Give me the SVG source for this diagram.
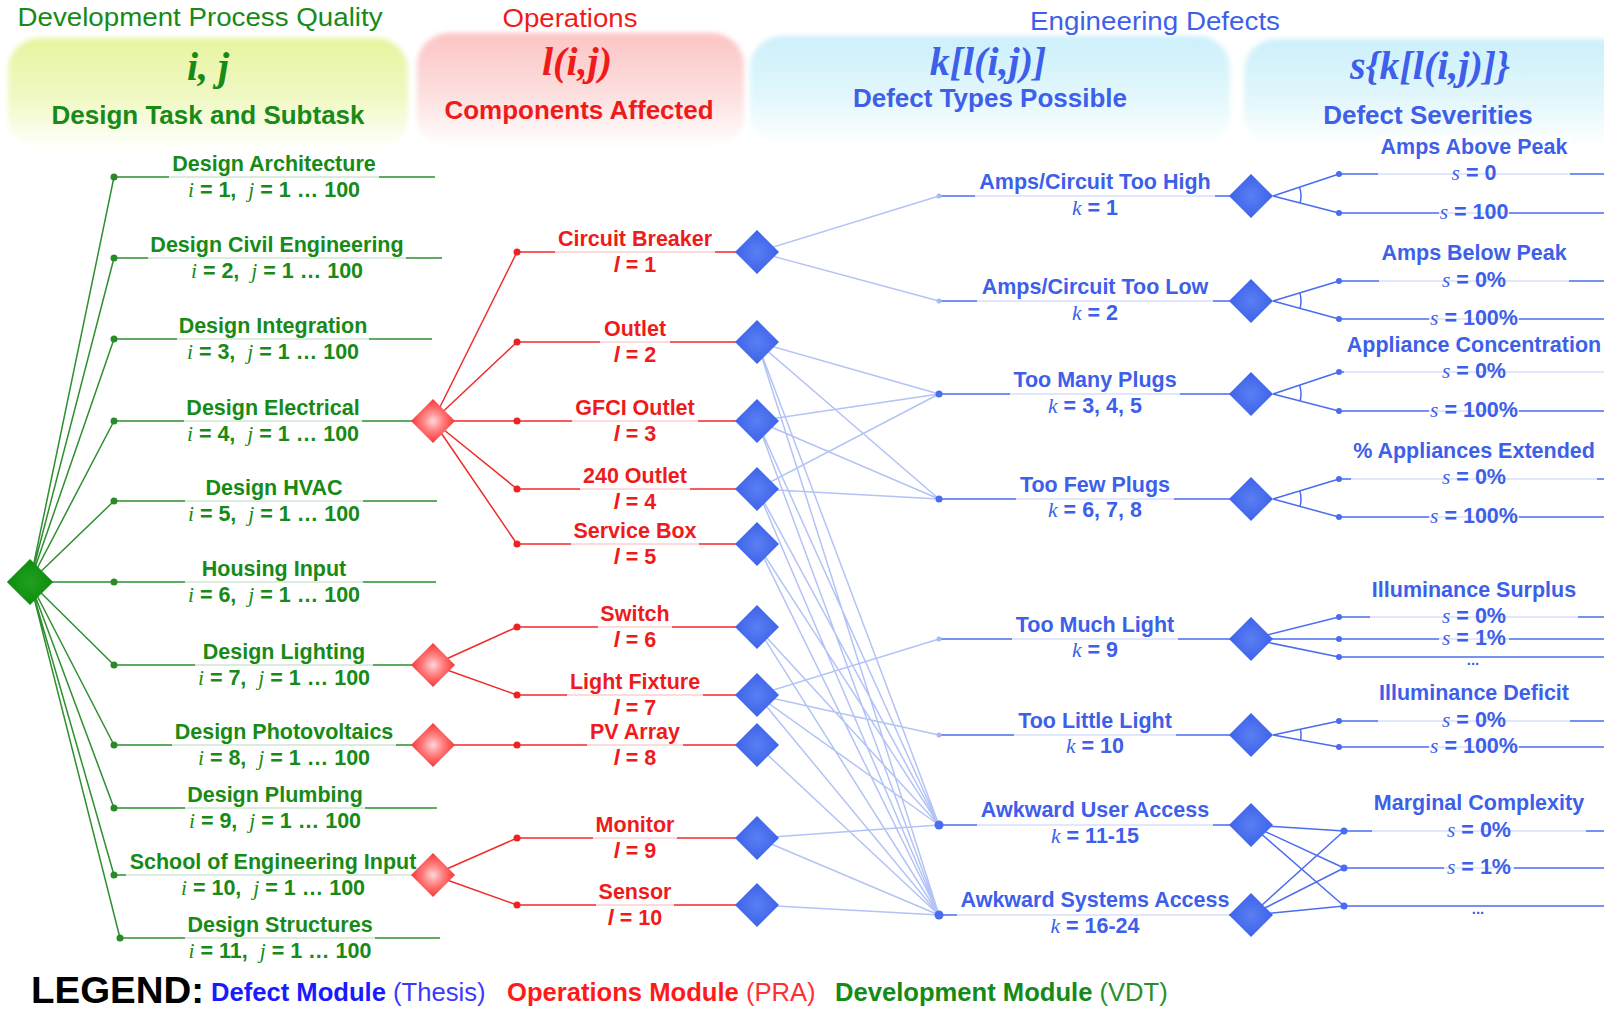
<svg xmlns="http://www.w3.org/2000/svg" xmlns:xlink="http://www.w3.org/1999/xlink" width="1604" height="1009" viewBox="0 0 1604 1009">
  <defs>
    <linearGradient id="boxGreen" x1="0" y1="0" x2="0" y2="1">
      <stop offset="0" stop-color="#e6f49e"/>
      <stop offset="0.55" stop-color="#f1f9c6"/>
      <stop offset="1" stop-color="#ffffff"/>
    </linearGradient>
    <linearGradient id="boxRed" x1="0" y1="0" x2="0" y2="1">
      <stop offset="0" stop-color="#fcc4c4"/>
      <stop offset="0.55" stop-color="#fde0e0"/>
      <stop offset="1" stop-color="#ffffff"/>
    </linearGradient>
    <linearGradient id="boxBlue" x1="0" y1="0" x2="0" y2="1">
      <stop offset="0" stop-color="#ccf0fa"/>
      <stop offset="0.55" stop-color="#e2f7fc"/>
      <stop offset="1" stop-color="#ffffff"/>
    </linearGradient>
    <radialGradient id="fillRed" cx="0.5" cy="0.5" r="0.55">
      <stop offset="0" stop-color="#ffd6d6"/>
      <stop offset="0.45" stop-color="#ff7a7a"/>
      <stop offset="1" stop-color="#f42a2a"/>
    </radialGradient>
    <radialGradient id="fillBlue" cx="0.5" cy="0.5" r="0.55">
      <stop offset="0" stop-color="#5a7ff2"/>
      <stop offset="1" stop-color="#3a60ea"/>
    </radialGradient>
    <radialGradient id="fillGreen" cx="0.5" cy="0.5" r="0.55">
      <stop offset="0" stop-color="#22a022"/>
      <stop offset="1" stop-color="#0b8a0b"/>
    </radialGradient>
    <filter id="soft" x="-5%" y="-10%" width="110%" height="120%">
      <feGaussianBlur stdDeviation="2.5"/>
    </filter>
    <path id="dia" d="M-22 0L0-22L22 0L0 22Z"/>
  </defs>
  <style>
    .hd{font:26px 'Liberation Sans',Arial,sans-serif;text-anchor:middle}
    .hb{font:bold 26px 'Liberation Sans',Arial,sans-serif;text-anchor:middle}
    .math{font:italic bold 40px 'Liberation Serif','Times New Roman',serif;text-anchor:middle}
    .lb{font:bold 21.5px 'Liberation Sans',Arial,sans-serif;text-anchor:middle}
    .v{font-family:'Liberation Serif','Times New Roman',serif;font-style:italic;font-weight:normal}
    .vi{font-style:italic}
    .g{fill:#178a17}
    .r{fill:#ef1b1b}
    .b{fill:#3d5fe9}
    .bg{fill:#ffffff;opacity:0.78}
    .lg{stroke:#2e8f2e;stroke-width:1.5;fill:none}
    .lr{stroke:#f22a2a;stroke-width:1.5;fill:none}
    .lx{stroke:#b3c3f5;stroke-width:1.5;fill:none}
    .lb2{stroke:#4a6cf0;stroke-width:1.5;fill:none}
    .dg{fill:#2a8a2a}
    .dr{fill:#ee2222}
    .db{fill:#4a6cf0}
    .dl{fill:#a9b9f2}
  </style>

  <!-- column header panels -->
  <g id="hdr-dev">
    <rect x="8" y="38" width="400" height="112" rx="32" fill="url(#boxGreen)" filter="url(#soft)"/>
    <text class="hd g" x="200" y="26" textLength="365" lengthAdjust="spacingAndGlyphs">Development Process Quality</text>
    <text class="math g" x="208" y="80">i, j</text>
    <text class="hb g" x="208" y="124">Design Task and Subtask</text>
  </g>
  <g id="hdr-ops">
    <rect x="417" y="33" width="327" height="115" rx="32" fill="url(#boxRed)" filter="url(#soft)"/>
    <text class="hd r" x="570" y="27" textLength="135" lengthAdjust="spacingAndGlyphs">Operations</text>
    <text class="math r" x="577" y="75">l(i,j)</text>
    <text class="hb r" x="579" y="119">Components Affected</text>
  </g>
  <g id="hdr-def">
    <rect x="750" y="36" width="480" height="110" rx="32" fill="url(#boxBlue)" filter="url(#soft)"/>
    <text class="hd b" x="1155" y="30" textLength="250" lengthAdjust="spacingAndGlyphs">Engineering Defects</text>
    <text class="math b" x="988" y="75">k[l(i,j)]</text>
    <text class="hb b" x="990" y="107">Defect Types Possible</text>
  </g>
  <g id="hdr-sev">
    <rect x="1244" y="39" width="400" height="108" rx="32" fill="url(#boxBlue)" filter="url(#soft)"/>
    <text class="math b" x="1430" y="79">s{k[l(i,j)]}</text>
    <text class="hb b" x="1428" y="124">Defect Severities</text>
  </g>

  <!-- connectors -->
  <g id="connectors">
    <!-- development spokes -->
    <path class="lg" d="M30 582L114 177M30 582L114 258M30 582L114 339M30 582L114 421M30 582L114 501M30 582L114 582M30 582L114 665M30 582L114 745M30 582L114 808M30 582L114 875M30 582L120 938"/>
    <!-- development task lines -->
    <path class="lg" d="M114 177H435M114 258H442M114 339H432M114 421H433M114 501H437M114 582H436M114 665H433M114 745H433M114 808H437M114 875H433M120 938H440"/>
    <!-- operations spokes -->
    <path class="lr" d="M433 421L517 252M433 421L517 342M433 421L517 421M433 421L517 489M433 421L517 544M433 665L517 627M433 665L517 695M433 745L517 745M433 875L517 838M433 875L517 905"/>
    <!-- component lines -->
    <path class="lr" d="M517 252H757M517 342H757M517 421H757M517 489H757M517 544H757M517 627H757M517 695H757M517 745H757M517 838H757M517 905H757"/>
    <!-- component to defect type links -->
    <path class="lx" d="M757 252L939 196M757 252L939 301
      M757 342L939 394M757 342L939 499M757 342L939 825M757 342L939 915
      M757 421L939 394M757 421L939 499M757 421L939 825M757 421L939 915
      M757 489L939 394M757 489L939 499M757 489L939 825M757 489L939 915
      M757 544L939 825M757 544L939 915
      M757 627L939 825M757 627L939 915
      M757 695L939 639M757 695L939 735M757 695L939 825M757 695L939 915
      M757 745L939 915
      M757 838L939 825M757 838L939 915
      M757 905L939 915"/>
    <!-- defect type lines -->
    <path class="lb2" d="M939 196H1251M939 301H1251M939 394H1251M939 499H1251M939 639H1251M939 735H1251M939 825H1251M939 915H1251"/>
    <!-- severity branches -->
    <path class="lb2" d="M1273 196L1339 174M1273 196L1339 213
      M1273 301L1339 281M1273 301L1339 319
      M1273 394L1339 372M1273 394L1339 411
      M1273 499L1339 479M1273 499L1339 517
      M1251 639L1339 617M1251 639L1339 639M1251 639L1339 657
      M1273 735L1339 721M1273 735L1339 747
      M1251 825L1344 831M1251 825L1344 868M1251 825L1344 906
      M1251 915L1344 831M1251 915L1344 868M1251 915L1344 906"/>
    <!-- exclusive-choice arcs -->
    <path class="lb2" d="M1299.6 187.2A28 28 0 0 1 1300.1 203M1299.8 292.9A28 28 0 0 1 1300 308.4M1299.6 385.2A28 28 0 0 1 1300.1 401M1299.8 490.9A28 28 0 0 1 1300 506.4M1300.4 729.2A28 28 0 0 1 1300.6 740"/>
    <!-- severity lines -->
    <path class="lb2" d="M1339 174H1604M1339 213H1604M1339 281H1604M1339 319H1604M1339 372H1604M1339 411H1604M1339 479H1604M1339 517H1604M1339 617H1604M1339 639H1604M1339 657H1604M1339 721H1604M1339 747H1604M1344 831H1604M1344 868H1604M1344 906H1604"/>
  </g>

  <!-- development module -->
  <g id="dev-root"><use href="#dia" x="30" y="582" fill="url(#fillGreen)" transform="translate(30 582) scale(1.05) translate(-30 -582)"/></g>

  <g id="task-1"><circle class="dg" cx="114" cy="177" r="3.5"/><rect class="bg" x="169" y="153" width="210" height="50"/>
    <text class="lb g" x="274" y="171">Design Architecture</text>
    <text class="lb g" x="274" y="197"><tspan class="v">i</tspan> = 1,&#160; <tspan class="v">j</tspan> = 1 … 100</text></g>
  <g id="task-2"><circle class="dg" cx="114" cy="258" r="3.5"/><rect class="bg" x="148" y="234" width="258" height="50"/>
    <text class="lb g" x="277" y="252">Design Civil Engineering</text>
    <text class="lb g" x="277" y="278"><tspan class="v">i</tspan> = 2,&#160; <tspan class="v">j</tspan> = 1 … 100</text></g>
  <g id="task-3"><circle class="dg" cx="114" cy="339" r="3.5"/><rect class="bg" x="177" y="315" width="192" height="50"/>
    <text class="lb g" x="273" y="333">Design Integration</text>
    <text class="lb g" x="273" y="359"><tspan class="v">i</tspan> = 3,&#160; <tspan class="v">j</tspan> = 1 … 100</text></g>
  <g id="task-4"><circle class="dg" cx="114" cy="421" r="3.5"/><rect class="bg" x="184" y="397" width="178" height="50"/>
    <text class="lb g" x="273" y="415">Design Electrical</text>
    <text class="lb g" x="273" y="441"><tspan class="v">i</tspan> = 4,&#160; <tspan class="v">j</tspan> = 1 … 100</text></g>
  <g id="task-5"><circle class="dg" cx="114" cy="501" r="3.5"/><rect class="bg" x="185" y="477" width="178" height="50"/>
    <text class="lb g" x="274" y="495">Design HVAC</text>
    <text class="lb g" x="274" y="521"><tspan class="v">i</tspan> = 5,&#160; <tspan class="v">j</tspan> = 1 … 100</text></g>
  <g id="task-6"><circle class="dg" cx="114" cy="582" r="3.5"/><rect class="bg" x="185" y="558" width="178" height="50"/>
    <text class="lb g" x="274" y="576">Housing Input</text>
    <text class="lb g" x="274" y="602"><tspan class="v">i</tspan> = 6,&#160; <tspan class="v">j</tspan> = 1 … 100</text></g>
  <g id="task-7"><circle class="dg" cx="114" cy="665" r="3.5"/><rect class="bg" x="195" y="641" width="178" height="50"/>
    <text class="lb g" x="284" y="659">Design Lighting</text>
    <text class="lb g" x="284" y="685"><tspan class="v">i</tspan> = 7,&#160; <tspan class="v">j</tspan> = 1 … 100</text></g>
  <g id="task-8"><circle class="dg" cx="114" cy="745" r="3.5"/><rect class="bg" x="172" y="721" width="224" height="50"/>
    <text class="lb g" x="284" y="739">Design Photovoltaics</text>
    <text class="lb g" x="284" y="765"><tspan class="v">i</tspan> = 8,&#160; <tspan class="v">j</tspan> = 1 … 100</text></g>
  <g id="task-9"><circle class="dg" cx="114" cy="808" r="3.5"/><rect class="bg" x="185" y="784" width="180" height="50"/>
    <text class="lb g" x="275" y="802">Design Plumbing</text>
    <text class="lb g" x="275" y="828"><tspan class="v">i</tspan> = 9,&#160; <tspan class="v">j</tspan> = 1 … 100</text></g>
  <g id="task-10"><circle class="dg" cx="114" cy="875" r="3.5"/><rect class="bg" x="126" y="851" width="294" height="50"/>
    <text class="lb g" x="273" y="869">School of Engineering Input</text>
    <text class="lb g" x="273" y="895"><tspan class="v">i</tspan> = 10,&#160; <tspan class="v">j</tspan> = 1 … 100</text></g>
  <g id="task-11"><circle class="dg" cx="120" cy="938" r="3.5"/><rect class="bg" x="185" y="914" width="190" height="50"/>
    <text class="lb g" x="280" y="932">Design Structures</text>
    <text class="lb g" x="280" y="958"><tspan class="v">i</tspan> = 11,&#160; <tspan class="v">j</tspan> = 1 … 100</text></g>

  <!-- operations module -->
  <g id="ops-electrical"><use href="#dia" x="433" y="421" fill="url(#fillRed)"/></g>
  <g id="ops-lighting"><use href="#dia" x="433" y="665" fill="url(#fillRed)"/></g>
  <g id="ops-pv"><use href="#dia" x="433" y="745" fill="url(#fillRed)"/></g>
  <g id="ops-school"><use href="#dia" x="433" y="875" fill="url(#fillRed)"/></g>

  <g id="comp-1"><circle class="dr" cx="517" cy="252" r="3.5"/><rect class="bg" x="555" y="228" width="160" height="50"/>
    <text class="lb r" x="635" y="246">Circuit Breaker</text>
    <text class="lb r" x="635" y="272"><tspan class="vi">l</tspan> = 1</text>
    <use href="#dia" x="757" y="252" fill="url(#fillBlue)"/></g>
  <g id="comp-2"><circle class="dr" cx="517" cy="342" r="3.5"/><rect class="bg" x="600" y="318" width="70" height="50"/>
    <text class="lb r" x="635" y="336">Outlet</text>
    <text class="lb r" x="635" y="362"><tspan class="vi">l</tspan> = 2</text>
    <use href="#dia" x="757" y="342" fill="url(#fillBlue)"/></g>
  <g id="comp-3"><circle class="dr" cx="517" cy="421" r="3.5"/><rect class="bg" x="572" y="397" width="126" height="50"/>
    <text class="lb r" x="635" y="415">GFCI Outlet</text>
    <text class="lb r" x="635" y="441"><tspan class="vi">l</tspan> = 3</text>
    <use href="#dia" x="757" y="421" fill="url(#fillBlue)"/></g>
  <g id="comp-4"><circle class="dr" cx="517" cy="489" r="3.5"/><rect class="bg" x="580" y="465" width="110" height="46"/>
    <text class="lb r" x="635" y="483">240 Outlet</text>
    <text class="lb r" x="635" y="509"><tspan class="vi">l</tspan> = 4</text>
    <use href="#dia" x="757" y="489" fill="url(#fillBlue)"/></g>
  <g id="comp-5"><circle class="dr" cx="517" cy="544" r="3.5"/><rect class="bg" x="571" y="520" width="128" height="48"/>
    <text class="lb r" x="635" y="538">Service Box</text>
    <text class="lb r" x="635" y="564"><tspan class="vi">l</tspan> = 5</text>
    <use href="#dia" x="757" y="544" fill="url(#fillBlue)"/></g>
  <g id="comp-6"><circle class="dr" cx="517" cy="627" r="3.5"/><rect class="bg" x="598" y="603" width="74" height="50"/>
    <text class="lb r" x="635" y="621">Switch</text>
    <text class="lb r" x="635" y="647"><tspan class="vi">l</tspan> = 6</text>
    <use href="#dia" x="757" y="627" fill="url(#fillBlue)"/></g>
  <g id="comp-7"><circle class="dr" cx="517" cy="695" r="3.5"/><rect class="bg" x="567" y="671" width="136" height="50"/>
    <text class="lb r" x="635" y="689">Light Fixture</text>
    <text class="lb r" x="635" y="715"><tspan class="vi">l</tspan> = 7</text>
    <use href="#dia" x="757" y="695" fill="url(#fillBlue)"/></g>
  <g id="comp-8"><circle class="dr" cx="517" cy="745" r="3.5"/><rect class="bg" x="587" y="723" width="96" height="46"/>
    <text class="lb r" x="635" y="739">PV Array</text>
    <text class="lb r" x="635" y="765"><tspan class="vi">l</tspan> = 8</text>
    <use href="#dia" x="757" y="745" fill="url(#fillBlue)"/></g>
  <g id="comp-9"><circle class="dr" cx="517" cy="838" r="3.5"/><rect class="bg" x="593" y="814" width="84" height="50"/>
    <text class="lb r" x="635" y="832">Monitor</text>
    <text class="lb r" x="635" y="858"><tspan class="vi">l</tspan> = 9</text>
    <use href="#dia" x="757" y="838" fill="url(#fillBlue)"/></g>
  <g id="comp-10"><circle class="dr" cx="517" cy="905" r="3.5"/><rect class="bg" x="596" y="881" width="78" height="50"/>
    <text class="lb r" x="635" y="899">Sensor</text>
    <text class="lb r" x="635" y="925"><tspan class="vi">l</tspan> = 10</text>
    <use href="#dia" x="757" y="905" fill="url(#fillBlue)"/></g>

  <!-- defect types -->
  <g id="defect-1"><circle class="dl" cx="939" cy="196" r="2.5"/><rect class="bg" x="975" y="171" width="240" height="50"/>
    <text class="lb b" x="1095" y="189">Amps/Circuit Too High</text>
    <text class="lb b" x="1095" y="215"><tspan class="v">k</tspan> = 1</text>
    <use href="#dia" x="1251" y="196" fill="url(#fillBlue)"/></g>
  <g id="defect-2"><circle class="dl" cx="939" cy="301" r="2.5"/><rect class="bg" x="977" y="276" width="236" height="50"/>
    <text class="lb b" x="1095" y="294">Amps/Circuit Too Low</text>
    <text class="lb b" x="1095" y="320"><tspan class="v">k</tspan> = 2</text>
    <use href="#dia" x="1251" y="301" fill="url(#fillBlue)"/></g>
  <g id="defect-3"><circle class="db" cx="939" cy="394" r="3.5"/><rect class="bg" x="1010" y="369" width="170" height="50"/>
    <text class="lb b" x="1095" y="387">Too Many Plugs</text>
    <text class="lb b" x="1095" y="413"><tspan class="v">k</tspan> = 3, 4, 5</text>
    <use href="#dia" x="1251" y="394" fill="url(#fillBlue)"/></g>
  <g id="defect-4"><circle class="db" cx="939" cy="499" r="3.5"/><rect class="bg" x="1016" y="474" width="158" height="50"/>
    <text class="lb b" x="1095" y="492">Too Few Plugs</text>
    <text class="lb b" x="1095" y="517"><tspan class="v">k</tspan> = 6, 7, 8</text>
    <use href="#dia" x="1251" y="499" fill="url(#fillBlue)"/></g>
  <g id="defect-5"><circle class="dl" cx="939" cy="639" r="2.5"/><rect class="bg" x="1012" y="614" width="166" height="50"/>
    <text class="lb b" x="1095" y="632">Too Much Light</text>
    <text class="lb b" x="1095" y="657"><tspan class="v">k</tspan> = 9</text>
    <use href="#dia" x="1251" y="639" fill="url(#fillBlue)"/></g>
  <g id="defect-6"><circle class="dl" cx="939" cy="735" r="2.5"/><rect class="bg" x="1014" y="710" width="162" height="50"/>
    <text class="lb b" x="1095" y="728">Too Little Light</text>
    <text class="lb b" x="1095" y="753"><tspan class="v">k</tspan> = 10</text>
    <use href="#dia" x="1251" y="735" fill="url(#fillBlue)"/></g>
  <g id="defect-7"><circle class="db" cx="939" cy="825" r="4.5"/><rect class="bg" x="977" y="800" width="236" height="50"/>
    <text class="lb b" x="1095" y="817">Awkward User Access</text>
    <text class="lb b" x="1095" y="843"><tspan class="v">k</tspan> = 11-15</text>
    <use href="#dia" x="1251" y="825" fill="url(#fillBlue)"/></g>
  <g id="defect-8"><circle class="db" cx="939" cy="915" r="4.5"/><rect class="bg" x="957" y="890" width="272" height="50"/>
    <text class="lb b" x="1095" y="907">Awkward Systems Access</text>
    <text class="lb b" x="1095" y="933"><tspan class="v">k</tspan> = 16-24</text>
    <use href="#dia" x="1251" y="915" fill="url(#fillBlue)"/></g>

  <!-- defect severities -->
  <g id="sev-1"><circle class="db" cx="1339" cy="174" r="3"/><circle class="db" cx="1339" cy="213" r="3"/>
    <rect class="bg" x="1378" y="136" width="192" height="50"/>
    <text class="lb b" x="1474" y="154">Amps Above Peak</text>
    <text class="lb b" x="1474" y="180"><tspan class="v">s</tspan> = 0</text>
    <rect class="bg" x="1439" y="203" width="70" height="20"/>
    <text class="lb b" x="1474" y="219"><tspan class="v">s</tspan> = 100</text></g>
  <g id="sev-2"><circle class="db" cx="1339" cy="281" r="3"/><circle class="db" cx="1339" cy="319" r="3"/>
    <rect class="bg" x="1379" y="242" width="190" height="50"/>
    <text class="lb b" x="1474" y="260">Amps Below Peak</text>
    <text class="lb b" x="1474" y="287"><tspan class="v">s</tspan> = 0%</text>
    <rect class="bg" x="1429" y="309" width="90" height="20"/>
    <text class="lb b" x="1474" y="325"><tspan class="v">s</tspan> = 100%</text></g>
  <g id="sev-3"><circle class="db" cx="1339" cy="372" r="3"/><circle class="db" cx="1339" cy="411" r="3"/>
    <rect class="bg" x="1344" y="334" width="260" height="50"/>
    <text class="lb b" x="1474" y="352">Appliance Concentration</text>
    <text class="lb b" x="1474" y="378"><tspan class="v">s</tspan> = 0%</text>
    <rect class="bg" x="1429" y="401" width="90" height="20"/>
    <text class="lb b" x="1474" y="417"><tspan class="v">s</tspan> = 100%</text></g>
  <g id="sev-4"><circle class="db" cx="1339" cy="479" r="3"/><circle class="db" cx="1339" cy="517" r="3"/>
    <rect class="bg" x="1351" y="440" width="246" height="50"/>
    <text class="lb b" x="1474" y="458">% Appliances Extended</text>
    <text class="lb b" x="1474" y="484"><tspan class="v">s</tspan> = 0%</text>
    <rect class="bg" x="1429" y="507" width="90" height="20"/>
    <text class="lb b" x="1474" y="523"><tspan class="v">s</tspan> = 100%</text></g>
  <g id="sev-5"><circle class="db" cx="1339" cy="617" r="3"/><circle class="db" cx="1339" cy="639" r="3"/><circle class="db" cx="1339" cy="657" r="3"/>
    <rect class="bg" x="1370" y="579" width="208" height="48"/>
    <text class="lb b" x="1474" y="597">Illuminance Surplus</text>
    <text class="lb b" x="1474" y="623"><tspan class="v">s</tspan> = 0%</text>
    <rect class="bg" x="1439" y="629" width="70" height="18"/>
    <text class="lb b" x="1474" y="645"><tspan class="v">s</tspan> = 1%</text>
    <text class="lb b" x="1473" y="665" style="font-size:15px">...</text></g>
  <g id="sev-6"><circle class="db" cx="1339" cy="721" r="3"/><circle class="db" cx="1339" cy="747" r="3"/>
    <rect class="bg" x="1378" y="682" width="192" height="50"/>
    <text class="lb b" x="1474" y="700">Illuminance Deficit</text>
    <text class="lb b" x="1474" y="727"><tspan class="v">s</tspan> = 0%</text>
    <rect class="bg" x="1429" y="737" width="90" height="20"/>
    <text class="lb b" x="1474" y="753"><tspan class="v">s</tspan> = 100%</text></g>
  <g id="sev-7"><circle class="db" cx="1344" cy="831" r="3.5"/><circle class="db" cx="1344" cy="868" r="3.5"/><circle class="db" cx="1344" cy="906" r="3.5"/>
    <rect class="bg" x="1372" y="792" width="214" height="50"/>
    <text class="lb b" x="1479" y="810">Marginal Complexity</text>
    <text class="lb b" x="1479" y="837"><tspan class="v">s</tspan> = 0%</text>
    <rect class="bg" x="1444" y="858" width="70" height="20"/>
    <text class="lb b" x="1479" y="874"><tspan class="v">s</tspan> = 1%</text>
    <text class="lb b" x="1478" y="914" style="font-size:15px">...</text></g>

  <!-- legend -->
  <g id="legend" font-family="'Liberation Sans',Arial,sans-serif">
    <text x="31" y="1003" font-size="37" font-weight="bold" fill="#000" textLength="173" lengthAdjust="spacingAndGlyphs">LEGEND:</text>
    <text x="211" y="1001" font-size="25.6"><tspan font-weight="bold" fill="#1a1aff">Defect Module</tspan><tspan fill="#3a3aff"> (Thesis)</tspan></text>
    <text x="507" y="1001" font-size="25.6"><tspan font-weight="bold" fill="#ff1a1a">Operations Module</tspan><tspan fill="#ff3030"> (PRA)</tspan></text>
    <text x="835" y="1001" font-size="25.6"><tspan font-weight="bold" fill="#168a16">Development Module</tspan><tspan fill="#2a8f2a"> (VDT)</tspan></text>
  </g>
</svg>
